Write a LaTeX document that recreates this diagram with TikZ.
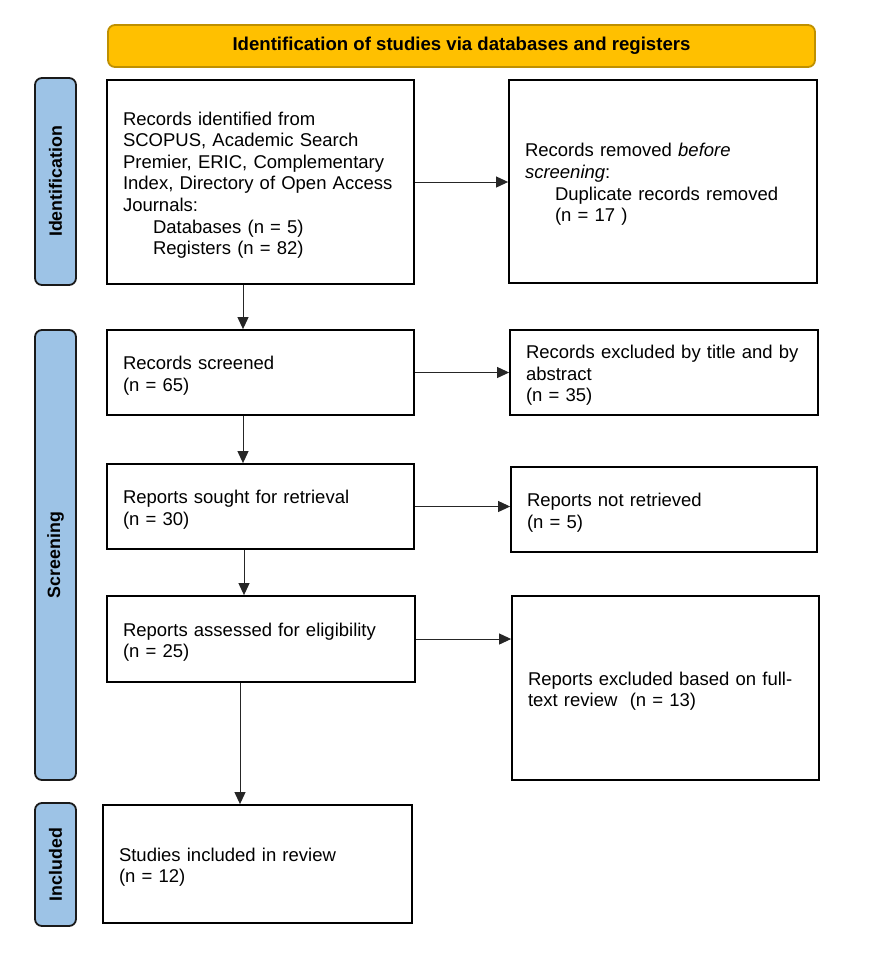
\documentclass[tikz,border=0pt]{standalone}
\usepackage{fontspec}
\setmainfont{Liberation Sans}
\usetikzlibrary{arrows.meta,calc}
\definecolor{hdrfill}{HTML}{FFC000}
\definecolor{hdrdraw}{HTML}{BF9000}
\definecolor{lblfill}{HTML}{9DC3E6}
\definecolor{lbldraw}{HTML}{1A1A1A}
\begin{document}
\begin{tikzpicture}[x=1pt,y=-1pt,
  box/.style={draw=black,line width=1.8pt,fill=white,inner xsep=16pt,inner ysep=0pt,
    align=left,font=\fontsize{18.5pt}{21.6pt}\selectfont,
    execute at begin node={\rule{0pt}{19.5pt}}},
  hdr/.style={draw=hdrdraw,line width=1.8pt,fill=hdrfill,rounded corners=7pt,
    font=\fontsize{18.6pt}{21pt}\selectfont\bfseries,inner sep=0pt},
  lbl/.style={draw=lbldraw,line width=1.8pt,fill=lblfill,rounded corners=7pt,inner sep=0pt,
    minimum width=41pt},
  lbltext/.style={rotate=90,font=\fontsize{17.8pt}{20pt}\selectfont\bfseries},
  arr/.style={draw=black!85,line width=1pt,-{Triangle[length=12pt,width=11pt]}}
]
\useasboundingbox (0,0) rectangle (870,978);
\fill[white] (0,0) rectangle (870,978);

\node[hdr,minimum width=707pt,minimum height=42pt] (hdr) at (461.5,46) {Identification of studies via databases and registers};

\node[lbl,minimum height=207pt] (lid) at (55.5,181.5) {};
\node[lbltext] (lidt) at (lid.center) {Identification};
\node[lbl,minimum height=450pt] (lsc) at (55.5,555) {};
\node[lbltext] (lsct) at (lsc.center) {Screening};
\node[lbl,minimum height=123pt] (lin) at (55.5,864.5) {};
\node[lbltext] (lint) at (lin.center) {Included};

\node[box,minimum width=307pt,minimum height=204pt,text width=275pt] (b1) at (260.5,182) {Records identified from\\SCOPUS, Academic Search\\Premier, ERIC, Complementary\\Index, Directory of Open Access\\Journals:\\\hspace*{30pt}Databases (n = 5)\\\hspace*{30pt}Registers (n = 82)};
\node[box,minimum width=308pt,minimum height=203pt,text width=276pt] (r1) at (663,181.5) {Records removed \textit{before}\\\textit{screening}:\\\hspace*{30pt}Duplicate records removed\\\hspace*{30pt}(n = 17 )};

\node[box,minimum width=307pt,minimum height=85pt,text width=275pt] (b2) at (260.5,372.5) {Records screened\\(n = 65)};
\node[box,minimum width=308pt,minimum height=85pt,text width=276pt] (r2) at (664,372.5) {Records excluded by title and by\\abstract\\(n = 35)};

\node[box,minimum width=307pt,minimum height=85pt,text width=275pt] (b3) at (260.5,506.5) {Reports sought for retrieval\\(n = 30)};
\node[box,minimum width=306pt,minimum height=85pt,text width=274pt] (r3) at (664,509.5) {Reports not retrieved\\(n = 5)};

\node[box,minimum width=308pt,minimum height=86pt,text width=276pt] (b4) at (261,639) {Reports assessed for eligibility\\(n = 25)};
\node[box,minimum width=307pt,minimum height=184pt,text width=275pt] (r4) at (665.5,688) {Reports excluded based on full-\\text review\ \ (n = 13)};

\node[box,minimum width=309pt,minimum height=118pt,text width=277pt] (b5) at (257.5,864) {Studies included in review\\(n = 12)};

\draw[arr] (b1.east) -- (b1.east -| r1.west);
\draw[arr] (b2.east) -- (b2.east -| r2.west);
\draw[arr] (b3.east) -- (b3.east -| r3.west);
\draw[arr] (b4.east) -- (b4.east -| r4.west);

\draw[arr] ([xshift=-17.5pt]b1.south) -- ([xshift=-17.5pt]b1.south |- b2.north);
\draw[arr] ([xshift=-17.5pt]b2.south) -- ([xshift=-17.5pt]b2.south |- b3.north);
\draw[arr] ([xshift=-16.5pt]b3.south) -- ([xshift=-16.5pt]b3.south |- b4.north);
\draw[arr] ([xshift=-21pt]b4.south) -- ([xshift=-21pt]b4.south |- b5.north);
\end{tikzpicture}
\end{document}
